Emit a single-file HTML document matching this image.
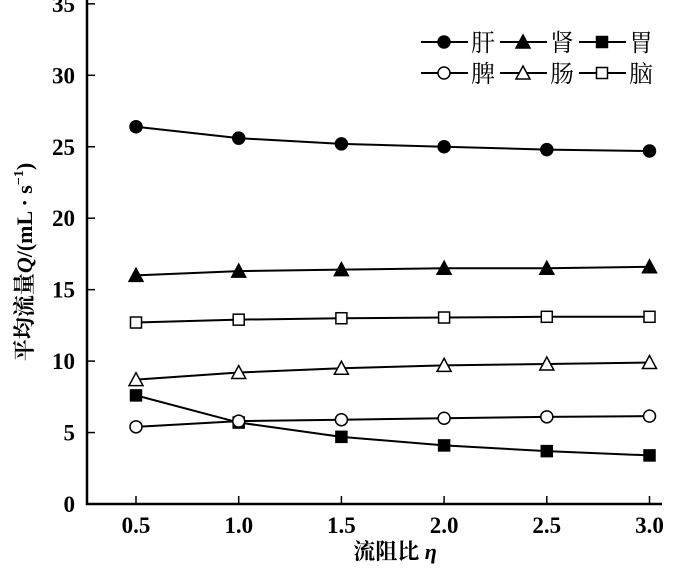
<!DOCTYPE html>
<html><head><meta charset="utf-8"><style>
body{margin:0;background:#fff;}
svg{display:block;font-family:"Liberation Serif","Noto Serif CJK SC",serif;}
</style></head><body>
<svg id="c" width="700" height="569"></svg>
<script>
const categories=[0.5,1.0,1.5,2.0,2.5,3.0];
const xTickLabels=["0.5","1.0","1.5","2.0","2.5","3.0"];
const yTicks=[0,5,10,15,20,25,30,35];
const liver=[26.4,25.6,25.2,25.0,24.8,24.7];
const kidney=[16.0,16.3,16.4,16.5,16.5,16.6];
const stomach=[7.6,5.7,4.7,4.1,3.7,3.4];
const spleen=[5.4,5.8,5.9,6.0,6.1,6.15];
const intestine=[8.7,9.2,9.5,9.7,9.8,9.9];
const brain=[12.7,12.9,13.0,13.05,13.1,13.1];
const seriesNames=["肝","肾","胃","脾","肠","脑"];
const NS="http://www.w3.org/2000/svg";
const svg=document.getElementById('c');
const X0=87,Y0=504;
const xs=v=>136+(v-0.5)/0.5*102.7;
const ys=v=>Y0-v*14.29;
function el(t,a,p){const e=document.createElementNS(NS,t);for(const k in a)e.setAttribute(k,a[k]);(p||svg).appendChild(e);return e;}
const axes=el('g',{});


el('line',{x1:X0,y1:0,x2:X0,y2:Y0+1,stroke:'#000','stroke-width':2.5},axes);
el('line',{x1:X0-1,y1:Y0,x2:662,y2:Y0,stroke:'#000','stroke-width':2.5},axes);
yTicks.forEach(v=>{
  el('line',{x1:X0,y1:ys(v),x2:X0+8,y2:ys(v),stroke:'#000','stroke-width':1.5},axes);
  const t=el('text',{x:X0-12,y:ys(v)+8,'text-anchor':'end','font-size':23,'font-weight':'bold'},axes);
  t.textContent=v;
  
  
});
categories.forEach((v,i)=>{
  el('line',{x1:xs(v),y1:Y0,x2:xs(v),y2:Y0-8,stroke:'#000','stroke-width':1.5},axes);
  const t=el('text',{x:xs(v),y:Y0+29,'text-anchor':'middle','font-size':23,'font-weight':'bold'},axes);
  t.textContent=xTickLabels[i];
  
  
});
const xt=el('text',{x:395,y:559,'text-anchor':'middle','font-size':22,'font-weight':'bold'});
xt.innerHTML='流阻比 <tspan font-style="italic">η</tspan>';


const yt=el('text',{x:0,y:0,'text-anchor':'middle','font-size':22,'font-weight':'bold',transform:'translate(32,262) rotate(-90)'});
yt.innerHTML='平均流量<tspan font-style="italic">Q</tspan>/(mL · s<tspan font-size="14" dy="-9">−1</tspan><tspan dy="9">)</tspan>';


function marker(g,type,fill,x,y){
  if(type==='c')return el('circle',{cx:x,cy:y,r:6,fill:fill,stroke:'#000','stroke-width':1.5},g);
  if(type==='t')return el('polygon',{points:`${x},${y-7} ${x-7},${y+6} ${x+7},${y+6}`,fill:fill,stroke:'#000','stroke-width':1.5},g);
  return el('rect',{x:x-5.5,y:y-5.5,width:11,height:11,fill:fill,stroke:'#000','stroke-width':1.5},g);
}
const series=[[liver,'c','#000'],[kidney,'t','#000'],[stomach,'s','#000'],[spleen,'c','#fff'],[intestine,'t','#fff'],[brain,'s','#fff']];
const seriesKeys=['liver','kidney','stomach','spleen','intestine','brain'];
series.forEach(([d,m,f],si)=>{
  const g=el('g',{});
  
  
  el('polyline',{points:d.map((v,i)=>xs(categories[i])+','+ys(v)).join(' '),fill:'none',stroke:'#000','stroke-width':2},g);
  d.forEach((v,i)=>{
    const p=marker(g,m,f,xs(categories[i]),ys(v));
    
    
  });
  const col=si%3,row=Math.floor(si/3);
  const lx=421+col*79,ly=42+row*31;
  const lg=el('g',{});
  
  
  el('line',{x1:lx,y1:ly,x2:lx+47,y2:ly,stroke:'#000','stroke-width':2},lg);
  marker(lg,m,f,lx+23,ly);
  const t=el('text',{x:lx+50,y:ly+9,'font-size':24},lg);
  t.textContent=seriesNames[si];
});
</script>
</body></html>
